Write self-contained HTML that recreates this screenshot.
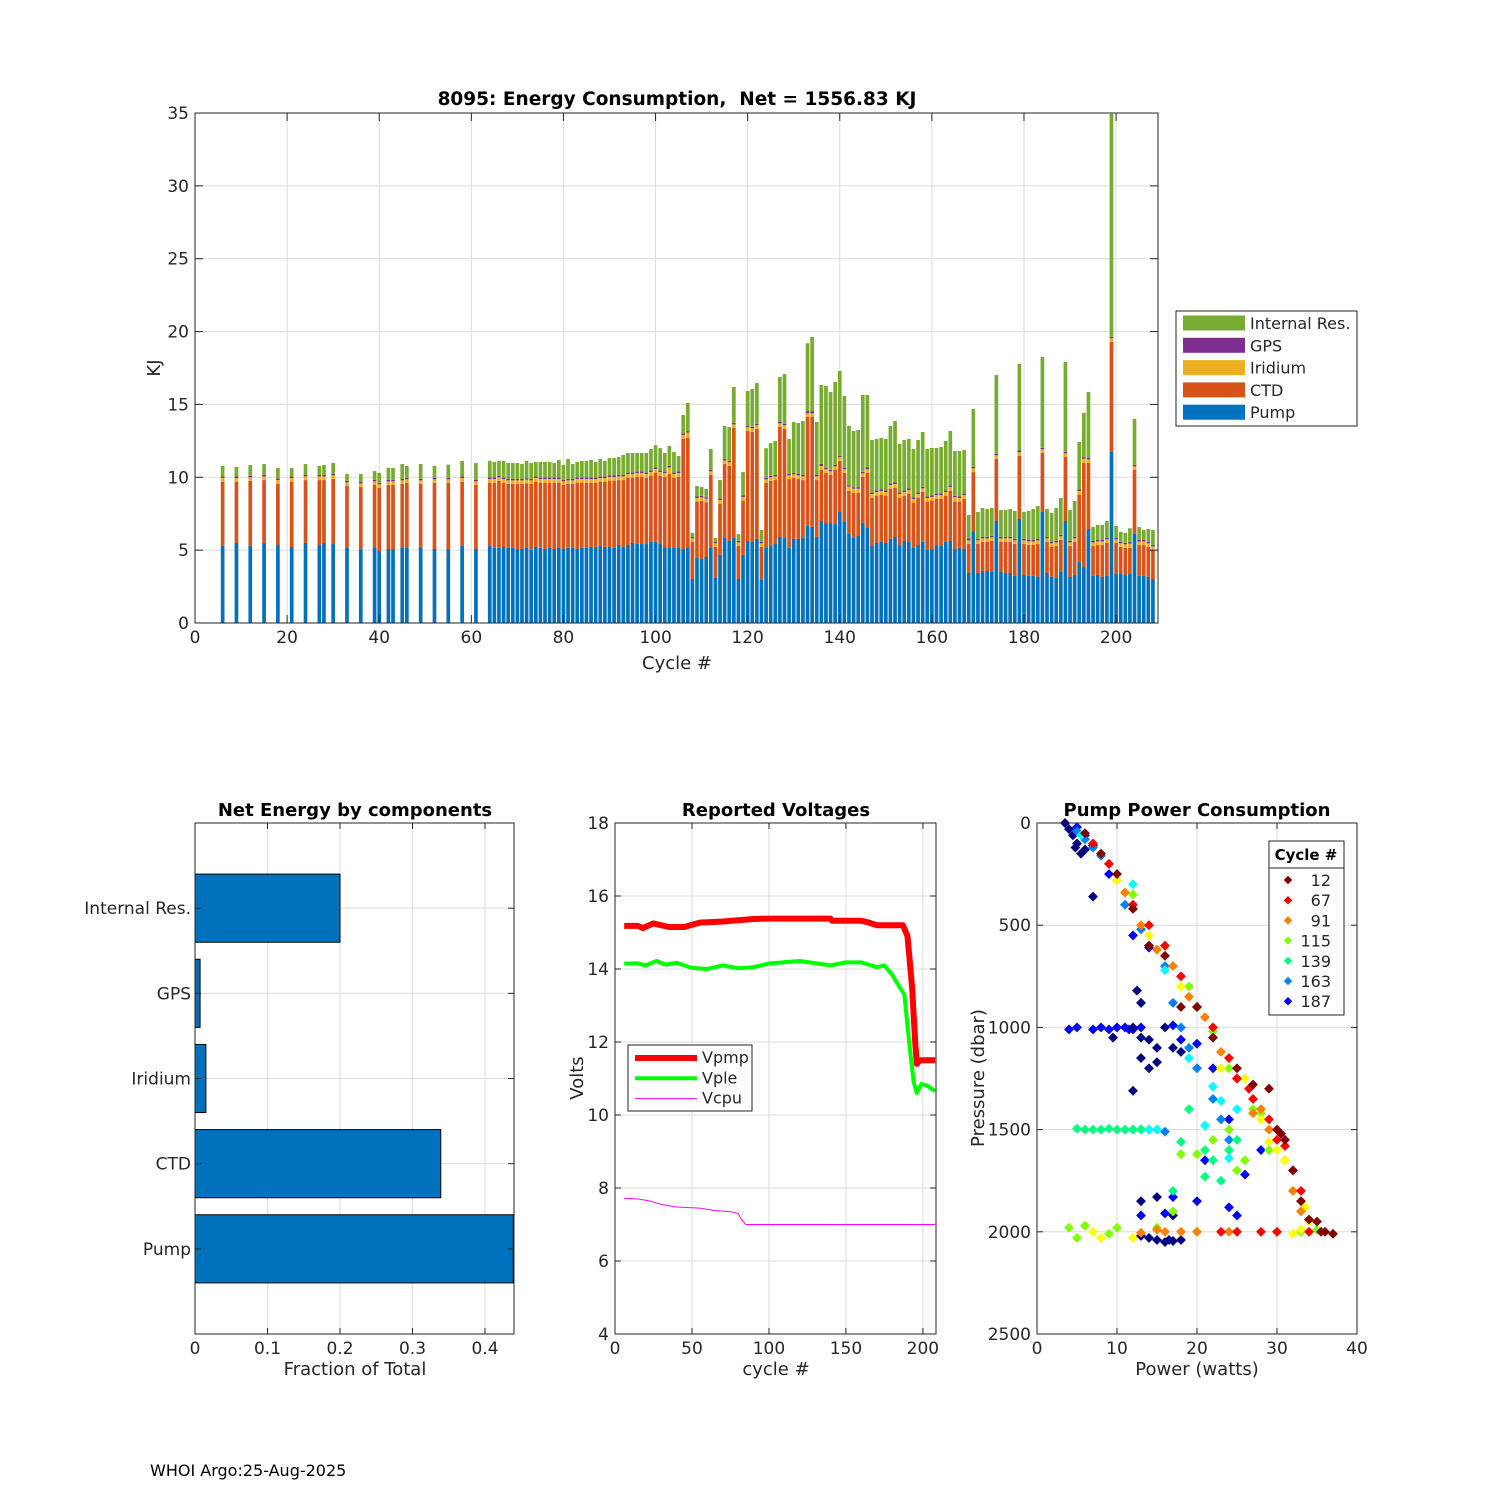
<!DOCTYPE html>
<html><head><meta charset="utf-8"><title>8095 Energy</title>
<style>
html,body{margin:0;padding:0;background:#fff;}
svg{display:block;font-family:"DejaVu Sans","Liberation Sans",sans-serif;}
</style></head>
<body>
<svg id="fig" width="1500" height="1500" viewBox="0 0 1500 1500" xmlns="http://www.w3.org/2000/svg">
<rect x="0" y="0" width="1500" height="1500" fill="#fff"/>
<text x="150" y="1476" font-size="16" fill="#000">WHOI Argo:25-Aug-2025</text>
</svg>
<script>
// ===== Top chart data =====
const cycles = [6,9,12,15,18,21,24,27,28,30,33,36,39,40,42,43,45,46,49,52,55,58,61,
64,65,66,67,68,69,70,71,72,73,74,75,76,77,78,79,80,81,82,83,84,85,86,87,88,89,90,91,92,93,
94,95,96,97,98,99,100,101,102,103,104,105,106,107,108,109,110,111,112,113,114,115,116,117,118,119,
120,121,122,123,124,125,126,127,128,129,130,131,132,133,134,135,136,137,138,139,140,141,142,143,
144,145,146,147,148,149,150,151,152,153,154,155,156,157,158,159,160,161,162,163,164,165,166,167,
168,169,170,171,172,173,174,175,176,177,178,179,180,181,182,183,184,185,186,187,188,189,190,191,
192,193,194,195,196,197,198,199,200,201,202,203,204,205,206,207,208];
const pump = [5.31,5.49,5.31,5.49,5.35,5.22,5.49,5.35,5.49,5.42,5.15,5.01,5.15,4.94,5.08,5.08,5.15,5.15,5.15,5.08,5.08,5.31,5.08,
5.28,5.17,5.17,5.22,5.17,5.17,5.08,5.08,5.17,5.03,
5.22,5.17,5.08,5.17,5.08,5.17,5.08,5.17,5.17,5.08,
5.17,5.17,5.22,5.22,5.28,5.22,5.22,5.17,5.35,5.22,
5.35,5.49,5.42,5.42,5.42,5.56,5.56,5.42,5.19,5.19,
5.15,5.15,5.08,5.19,3.02,4.46,4.39,4.53,5.15,3.09,
4.67,5.83,5.63,5.83,3.02,4.67,5.63,5.56,5.77,2.95,
5.15,5.28,5.42,5.9,5.83,5.15,5.77,5.77,5.83,6.66,
6.59,5.9,7.0,6.86,6.86,6.79,7.62,6.93,6.11,5.83,
5.97,6.86,6.52,5.28,5.49,5.56,5.49,5.77,5.9,5.35,
5.63,5.56,5.15,5.35,5.56,5.01,5.08,5.35,5.28,5.56,
5.63,5.08,5.15,5.08,3.43,6.31,3.43,3.57,3.57,3.5,
7.0,3.5,3.43,3.43,3.23,7.14,3.29,3.23,3.23,3.16,
7.62,3.43,3.16,3.09,3.5,7.0,3.16,3.29,4.19,3.84,
6.45,3.23,3.29,3.16,3.23,11.74,3.36,3.36,3.29,3.36,
6.11,3.23,3.23,3.16,3.02];
const ctd = [4.39,4.21,4.44,4.32,4.21,4.48,4.32,4.46,4.32,4.46,4.25,4.32,4.32,4.33,4.39,4.39,4.39,4.46,4.39,4.53,4.53,4.39,4.39,
4.35,4.46,4.58,4.41,4.37,4.37,4.46,4.46,4.42,4.51,
4.48,4.46,4.55,4.46,4.55,4.46,4.39,4.37,4.37,4.55,
4.46,4.46,4.41,4.41,4.42,4.48,4.55,4.6,4.46,4.59,
4.62,4.48,4.62,4.62,4.55,4.55,4.76,4.69,4.85,5.04,
4.82,4.89,7.57,7.53,2.54,3.87,3.98,3.75,5.01,2.13,
3.52,5.08,5.15,7.55,2.26,3.73,7.55,7.55,7.55,2.27,
4.46,4.47,4.39,7.55,7.49,4.73,4.18,4.11,3.98,7.48,
7.55,3.91,3.52,3.44,3.3,3.71,3.5,3.37,2.95,3.09,
2.95,3.16,3.78,3.32,3.25,3.25,3.25,3.45,3.39,3.25,
3.11,3.32,3.11,3.25,3.43,3.32,3.32,3.18,3.25,3.18,
3.45,3.25,3.18,3.45,1.99,4.05,1.99,1.99,1.99,2.13,
4.26,2.06,2.13,2.13,2.19,4.32,2.13,2.12,2.12,2.26,
4.05,2.13,2.06,2.19,2.2,4.39,2.12,2.27,4.62,7.14,
4.53,2.05,2.06,2.19,2.26,7.55,2.13,1.86,1.86,1.79,
4.39,2.12,2.12,2.06,1.99];
const iridium = [0.25,0.25,0.25,0.25,0.25,0.25,0.25,0.25,0.25,0.25,0.25,0.25,0.25,0.25,0.25,0.25,0.25,0.25,0.25,0.25,0.25,0.25,0.25,
0.25,0.25,0.25,0.25,0.25,0.25,0.25,0.25,0.25,0.25,
0.25,0.25,0.25,0.25,0.25,0.25,0.25,0.25,0.25,0.25,
0.25,0.25,0.25,0.25,0.25,0.25,0.25,0.25,0.25,0.25,
0.25,0.25,0.25,0.25,0.25,0.25,0.25,0.25,0.25,0.45,
0.25,0.25,0.25,0.35,0.25,0.25,0.25,0.25,0.25,0.25,
0.25,0.25,0.25,0.25,0.25,0.25,0.25,0.25,0.25,0.25,
0.25,0.25,0.25,0.25,0.25,0.25,0.25,0.25,0.25,0.25,
0.25,0.25,0.25,0.25,0.25,0.25,0.25,0.25,0.3,0.3,
0.3,0.25,0.25,0.25,0.25,0.25,0.25,0.25,0.25,0.25,
0.25,0.25,0.25,0.25,0.25,0.25,0.25,0.25,0.25,0.25,
0.25,0.3,0.25,0.25,0.25,0.25,0.25,0.25,0.25,0.25,
0.25,0.25,0.25,0.25,0.25,0.25,0.25,0.25,0.25,0.25,
0.25,0.25,0.25,0.25,0.25,0.25,0.25,0.25,0.25,0.3,
0.25,0.25,0.25,0.25,0.25,0.25,0.25,0.25,0.25,0.3,
0.25,0.25,0.25,0.25,0.25];
const gps = [0.1,0.1,0.1,0.1,0.1,0.1,0.1,0.1,0.1,0.1,0.1,0.1,0.1,0.1,0.1,0.1,0.1,0.1,0.1,0.1,0.1,0.1,0.1,
0.1,0.1,0.1,0.1,0.1,0.1,0.1,0.1,0.1,0.1,
0.1,0.1,0.1,0.1,0.1,0.1,0.1,0.1,0.1,0.1,
0.1,0.1,0.1,0.1,0.1,0.1,0.1,0.1,0.1,0.1,
0.1,0.1,0.1,0.1,0.1,0.1,0.1,0.1,0.1,0.1,
0.1,0.1,0.1,0.1,0.1,0.1,0.1,0.1,0.1,0.1,
0.1,0.1,0.1,0.1,0.1,0.1,0.1,0.1,0.1,0.1,
0.1,0.1,0.1,0.1,0.1,0.1,0.1,0.1,0.1,0.15,
0.15,0.1,0.15,0.1,0.1,0.1,0.1,0.1,0.1,0.1,
0.1,0.1,0.15,0.1,0.1,0.1,0.1,0.1,0.1,0.1,
0.1,0.1,0.1,0.1,0.1,0.1,0.1,0.1,0.1,0.1,
0.1,0.1,0.1,0.1,0.15,0.1,0.1,0.1,0.1,0.1,
0.1,0.1,0.1,0.1,0.1,0.15,0.1,0.1,0.1,0.1,
0.1,0.1,0.1,0.1,0.1,0.1,0.1,0.1,0.1,0.1,
0.1,0.1,0.1,0.1,0.1,0.1,0.1,0.1,0.1,0.1,
0.1,0.1,0.1,0.1,0.1];
const internal = [0.73,0.66,0.74,0.75,0.73,0.59,0.75,0.63,0.68,0.75,0.48,0.55,0.61,0.68,0.83,0.82,1.02,0.82,1.02,0.83,0.91,1.07,1.16,
1.16,1.07,1.02,1.14,1.09,1.09,1.09,1.02,1.18,1.09,
1.0,1.07,1.07,1.07,1.0,1.21,1.02,1.37,1.02,1.07,
1.14,1.14,1.21,1.07,1.21,1.07,1.2,1.2,1.23,1.37,
1.35,1.35,1.28,1.28,1.35,1.48,1.53,1.54,1.28,1.37,
1.42,1.07,1.28,1.93,0.27,0.72,0.61,0.57,1.43,0.26,
1.27,2.26,2.32,2.47,0.47,1.61,2.39,2.6,2.8,0.81,
2.04,2.25,2.33,3.08,3.42,2.4,3.5,3.5,3.7,4.66,
5.09,3.64,5.41,5.62,5.34,5.69,5.83,4.93,4.06,3.86,
3.93,5.28,4.95,3.61,3.54,3.54,3.54,3.95,4.22,3.34,
3.47,3.4,3.33,3.61,3.77,3.26,3.26,3.13,3.2,3.4,
3.75,3.07,3.12,2.99,1.59,3.98,1.85,1.98,1.91,1.91,
5.41,1.85,1.85,1.91,1.92,5.92,1.85,1.99,2.12,2.26,
6.24,1.91,1.98,2.26,2.53,6.17,2.13,2.46,3.26,3.03,
4.52,0.96,1.03,1.03,1.16,15.31,0.82,0.68,0.68,0.95,
3.15,0.89,0.68,0.88,1.02];
const topXTicks = [0,20,40,60,80,100,120,140,160,180,200];
const topYTicks = [0,5,10,15,20,25,30,35];

// ===== Component fraction data =====
const compNames = ["Pump","CTD","Iridium","GPS","Internal Res."];
const compFrac = [0.439,0.339,0.015,0.007,0.200];
const fracTicks = [0,0.1,0.2,0.3,0.4];

// ===== Voltage data =====
const vpmpCycle = [6,15,18,25,35,45,55,70,90,100,140,141,160,165,170,187,190,193,195,196,198,208];
const vpmp = [15.18,15.18,15.12,15.25,15.15,15.15,15.27,15.3,15.37,15.38,15.38,15.32,15.32,15.27,15.2,15.2,14.9,13.5,12.0,11.4,11.5,11.5];
const vpleCycle = [6,15,20,27,33,40,50,60,70,80,90,100,120,140,150,160,170,175,180,185,188,191,194,196,199,203,208];
const vple = [14.15,14.15,14.1,14.22,14.12,14.17,14.03,14.0,14.1,14.02,14.05,14.15,14.22,14.1,14.18,14.18,14.05,14.1,13.85,13.5,13.3,12.0,10.9,10.6,10.85,10.8,10.65];
const vcpuCycle = [6,15,22,30,40,55,65,75,80,82,85,208];
const vcpu = [7.72,7.7,7.65,7.55,7.48,7.45,7.38,7.35,7.3,7.15,7.0,7.0];
const voltXTicks = [0,50,100,150,200];
const voltYTicks = [4,6,8,10,12,14,16,18];

// ===== Pump power scatter data =====
const pw12 = [6,8,14,18,22,25,29,30,31,33,35,36,37,30.5,34,10,12,16,20,27,32,35.5];
const pr12 = [50,150,600,900,1050,1200,1300,1500,1550,1850,1950,2000,2010,1520,1940,250,420,650,900,1280,1700,2000];
const pw67 = [7,12,16,20,24,27,30,33,34,30,28,25,23,26.5,31,9,14,18,22,25,29,32];
const pr67 = [100,400,600,900,1150,1350,1550,1800,2000,2000,2000,2000,2000,1300,1580,200,500,750,1000,1250,1450,1700];
const pw91 = [9,13,17,21,25,29,32,20,16,13,24,15,27,18,11,15,19,23,28,33];
const pr91 = [200,500,700,950,1250,1500,1800,2000,2000,2005,2000,1990,1420,2000,340,620,850,1120,1400,1900];
const pwYel = [10,14,18,22,26,28,31,34,33,7,8,12,29,32,23,16,20,24,30,33.5];
const prYel = [280,550,800,1000,1250,1450,1650,1950,1990,2000,2030,2030,1560,2010,1200,650,900,1150,1600,1880];
const pw115 = [8,12,16,20,22,27,31,33,4,6,9,5,15,17,20,24,22,30,18,26,28,35,10,25,14,19,24,29,32];
const pr115 = [150,350,600,900,1020,1400,1650,2000,1980,1970,2010,2030,1980,1900,1620,1500,1550,2000,1620,1650,1420,1990,1980,1700,500,800,1200,1600,1800];
const pw139 = [5,6,7,8,9,10,11,12,13,19,21,22,24,25,21,23,17,18];
const pr139 = [1495,1500,1500,1500,1495,1500,1500,1500,1498,1400,1600,1650,1600,1550,1730,1750,1800,1560];
const pwCyan = [12,16,19,22,23,21,25,24,11,13,9,5.5,14,15];
const prCyan = [300,720,1150,1290,1360,1480,1400,1640,1500,1500,200,60,1500,1500];
const pw163 = [5,6,10,11,14,16,18,19,20,22,12,13,14,15,16,24,23,7,8,13,17];
const pr163 = [40,80,280,400,600,700,1000,1100,1200,1350,1500,1500,1500,1500,1510,1550,1450,120,160,520,880];
const pw187 = [5,6,7,9,12,14,17,18,20,22,24,21,28,26,17,20,24,25,16,13,4,5,7,8,9,10,11,12,13,11.5];
const pr187 = [20,60,110,250,550,610,990,1060,1080,1200,1450,1650,1600,1720,1830,1850,1880,1920,1910,1920,1010,1000,1010,1000,1010,1000,1000,1010,1000,1010];
const pwNavy = [3.5,4,4.5,5,5.5,4.8,6,7,12,13,14,15,14,12,16,13,15,17,18,13,15,17,14,15,16,17,18,13,16.5,9.5,12.5,13];
const prNavy = [0,30,60,100,150,120,130,360,1000,1050,1060,1100,1200,1310,1000,1150,1170,1100,1120,1850,1830,1920,2030,2040,2050,2045,2040,2020,2040,1050,820,880];
const powerXTicks = [0,10,20,30,40];
const pressYTicks = [0,500,1000,1500,2000,2500];
const legendCycles = ["12","67","91","115","139","163","187"];

const NS = "http://www.w3.org/2000/svg";
const svg = document.getElementById('fig');
function mk(tag, attrs, parent){
  const e = document.createElementNS(NS, tag);
  for (const k in attrs) e.setAttribute(k, attrs[k]);
  (parent||svg).appendChild(e);
  return e;
}
function txt(x,y,s,size,anchor,weight,parent){
  const t = mk('text',{x:x,y:y,'font-size':size,'text-anchor':anchor||'start','font-weight':weight||'normal',fill:'#262626'},parent);
  t.style.whiteSpace = 'pre';
  t.textContent = s;
  return t;
}
const AX = '#262626', GRID = '#dcdcdc';
const TICKF = 17;

function axesFrame(g, L, T, R, B, xs, xt, ys, yt){
  xt.forEach(v=>{ const x = xs(v);
    const l = mk('line',{x1:x,y1:T,x2:x,y2:B,stroke:GRID,'stroke-width':1},g);
     
  });
  yt.forEach(v=>{ const y = ys(v);
    const l = mk('line',{x1:L,y1:y,x2:R,y2:y,stroke:GRID,'stroke-width':1},g);
     
  });
}
function axesTicks(g, L, T, R, B, xs, xt, ys, yt, fmtX, fmtY, tl){
  tl = tl||6;
  const box = mk('rect',{x:L,y:T,width:R-L,height:B-T,fill:'none',stroke:AX,'stroke-width':1},g);
   
  xt.forEach(v=>{ const x = xs(v);
    mk('line',{x1:x,y1:B,x2:x,y2:B-tl,stroke:AX},g);
    mk('line',{x1:x,y1:T,x2:x,y2:T+tl,stroke:AX},g);
    const t = txt(x,B+20,fmtX(v),TICKF,'middle',null,g);
     
  });
  yt.forEach(v=>{ const y = ys(v);
    mk('line',{x1:L,y1:y,x2:L+tl,y2:y,stroke:AX},g);
    mk('line',{x1:R,y1:y,x2:R-tl,y2:y,stroke:AX},g);
    if (fmtY){ const t = txt(L-6,y+6,fmtY(v),TICKF,'end',null,g);
        }
  });
}

// ===== TOP CHART =====
(function(){
  const g = mk('g',{});
   
  const L=195,T=113,R=1158,B=623;
  const xs = v => L + (v-0)*(R-L)/209.1;
  const ys = v => B - v*(B-T)/35;
  axesFrame(g,L,T,R,B,xs,topXTicks,ys,topYTicks);
  const colors = ['#0072BD','#D95319','#EDB120','#7E2F8E','#77AC30'];
  const names = ['pump','ctd','iridium','gps','internal'];
  const series = [pump,ctd,iridium,gps,internal];
  const bw = 0.8*(xs(1)-xs(0));
  const clip = mk('clipPath',{id:'topclip'},g);
  mk('rect',{x:L,y:T,width:R-L,height:B-T},clip);
  const bars = mk('g',{'clip-path':'url(#topclip)'},g);
   
  cycles.forEach((c,i)=>{
    let base = 0;
    series.forEach((s,k)=>{
      const v = s[i];
      const y0 = ys(base), y1 = ys(base+v);
      const r = mk('rect',{x:xs(c)-bw/2,y:y1,width:bw,height:Math.max(0,y0-y1),fill:colors[k]},bars);
      
      
      base += v;
    });
  });
  axesTicks(g,L,T,R,B,xs,topXTicks,ys,topYTicks,v=>String(v),v=>String(v),8);
  const ti = txt(677,105,'8095: Energy Consumption,  Net = 1556.83 KJ',18.5,'middle','bold',g);
  ti.setAttribute('fill','#000');
   
  const xl = txt(677,669,'Cycle #',18,'middle',null,g);
   
  const yl = txt(0,0,'KJ',18,'middle',null,g);
  yl.setAttribute('transform','translate(160,368) rotate(-90)');
   
  const lg = mk('g',{},g);
   
  mk('rect',{x:1176,y:311,width:181,height:115,fill:'#fff',stroke:AX},lg);
  const lnames = ['Internal Res.','GPS','Iridium','CTD','Pump'];
  const lcol = [colors[4],colors[3],colors[2],colors[1],colors[0]];
  lnames.forEach((n,i)=>{
    const y = 323 + i*22.3;
    const sw = mk('rect',{x:1183,y:y-7.5,width:62,height:15,fill:lcol[i]},lg);
     
    const t = txt(1250,y+6,n,16,'start',null,lg);
     
  });
})();

// ===== NET ENERGY BY COMPONENTS =====
(function(){
  const g = mk('g',{});
   
  const L=195,T=823,R=514,B=1334;
  const xs = v => L + v*(R-L)/0.44;
  const ys = v => B - v*(B-T)/6;
  axesFrame(g,L,T,R,B,xs,fracTicks,ys,[1,2,3,4,5]);
  const clip = mk('clipPath',{id:'compclip'},g);
  mk('rect',{x:L,y:T,width:R-L,height:B-T},clip);
  const bg = mk('g',{'clip-path':'url(#compclip)'},g);
  compFrac.forEach((f,i)=>{
    const yc = ys(i+1), h = ys(0)-ys(0.8);
    const r = mk('rect',{x:xs(0),y:yc-h/2,width:xs(f)-xs(0),height:h,fill:'#0072BD',stroke:'#000','stroke-width':1},bg);
    
    
  });
  axesTicks(g,L,T,R,B,xs,fracTicks,ys,[1,2,3,4,5],v=>String(v),null,6);
  compNames.forEach((n,i)=>{
    const t = txt(L-4,ys(i+1)+6,n,TICKF,'end',null,g);
     
  });
  const ti = txt(355,816,'Net Energy by components',18,'middle','bold',g);
  ti.setAttribute('fill','#000');
   
  const xl = txt(355,1375,'Fraction of Total',18,'middle',null,g);
   
})();

// ===== VOLTAGES =====
(function(){
  const g = mk('g',{});
   
  const L=615,T=823,R=936,B=1334;
  const xs = v => L + v*(R-L)/208.5;
  const ys = v => B - (v-4)*(B-T)/14;
  axesFrame(g,L,T,R,B,xs,voltXTicks,ys,voltYTicks);
  function line(cx, vy, color, w, name){
    const d = cx.map((c,i)=>(i?'L':'M')+xs(c).toFixed(1)+','+ys(vy[i]).toFixed(1)).join(' ');
    const p = mk('path',{d:d,fill:'none',stroke:color,'stroke-width':w,'stroke-linejoin':'round'},g);
     
  }
  line(vpmpCycle,vpmp,'#ff0000',6,'line-vpmp');
  line(vpleCycle,vple,'#00ff00',4,'line-vple');
  line(vcpuCycle,vcpu,'#ff00ff',1,'line-vcpu');
  axesTicks(g,L,T,R,B,xs,voltXTicks,ys,voltYTicks,v=>String(v),v=>String(v),6);
  const lg = mk('g',{},g);
   
  mk('rect',{x:628,y:1045,width:124,height:66,fill:'#fff',stroke:AX},lg);
  [['Vpmp','#ff0000',6],['Vple','#00ff00',4],['Vcpu','#ff00ff',1]].forEach((e,i)=>{
    const y = 1058 + i*20.3;
    mk('line',{x1:635,y1:y,x2:697,y2:y,stroke:e[1],'stroke-width':e[2]},lg);
    const t = txt(702,y+5,e[0],16,'start',null,lg);
     
  });
  const ti = txt(776,816,'Reported Voltages',18,'middle','bold',g);
  ti.setAttribute('fill','#000');
   
  const xl = txt(776,1375,'cycle #',18,'middle',null,g);
   
  const yl = txt(0,0,'Volts',18,'middle',null,g);
  yl.setAttribute('transform','translate(583,1078) rotate(-90)');
   
})();

// ===== PUMP POWER SCATTER =====
(function(){
  const g = mk('g',{});
   
  const L=1037,T=823,R=1357,B=1334;
  const xs = v => L + v*(R-L)/40;
  const ys = v => T + v*(B-T)/2500;
  axesFrame(g,L,T,R,B,xs,powerXTicks,ys,pressYTicks);
  const groups = [
    [pw187,pr187,'#0000ff','cycle-187'],[pwNavy,prNavy,'#000080','cycle-late'],
    [pw163,pr163,'#0080ff','cycle-163'],[pwCyan,prCyan,'#00ffff','cycle-150'],
    [pw139,pr139,'#00ff80','cycle-139'],[pw115,pr115,'#80ff00','cycle-115'],
    [pwYel,prYel,'#ffff00','cycle-100'],[pw91,pr91,'#ff8000','cycle-91'],
    [pw67,pr67,'#ff0000','cycle-67'],[pw12,pr12,'#800000','cycle-12']];
  groups.forEach(gr=>{
    const sg = mk('g',{fill:gr[2]},g);
     
    gr[0].forEach((p,i)=>{
      const c = mk('rect',{x:xs(p)-3.5,y:ys(gr[1][i])-3.5,width:7,height:7,transform:'rotate(45 '+xs(p)+' '+ys(gr[1][i])+')'},sg);
       
    });
  });
  axesTicks(g,L,T,R,B,xs,powerXTicks,ys,pressYTicks,v=>String(v),v=>String(v),6);
  const lg = mk('g',{},g);
   
  mk('rect',{x:1269,y:841,width:75,height:174,fill:'#fff',stroke:AX},lg);
  mk('line',{x1:1269,y1:868,x2:1344,y2:868,stroke:AX},lg);
  const lt = txt(1306,860,'Cycle #',15,'middle','bold',lg);
  lt.setAttribute('fill','#000');
   
  const lc = ['#800000','#ff0000','#ff8000','#80ff00','#00ff80','#0080ff','#0000ff'];
  legendCycles.forEach((n,i)=>{
    const y = 880 + i*20.2;
    mk('rect',{x:1285,y:y-3,width:6,height:6,fill:lc[i],transform:'rotate(45 1288 '+y+')'},lg);
    const t = txt(1331,y+6,n,16,'end',null,lg);
     
  });
  const ti = txt(1197,816,'Pump Power Consumption',18,'middle','bold',g);
  ti.setAttribute('fill','#000');
   
  const xl = txt(1197,1375,'Power (watts)',18,'middle',null,g);
   
  const yl = txt(0,0,'Pressure (dbar)',18,'middle',null,g);
  yl.setAttribute('transform','translate(984,1078) rotate(-90)');
   
})();
</script>
</body></html>
